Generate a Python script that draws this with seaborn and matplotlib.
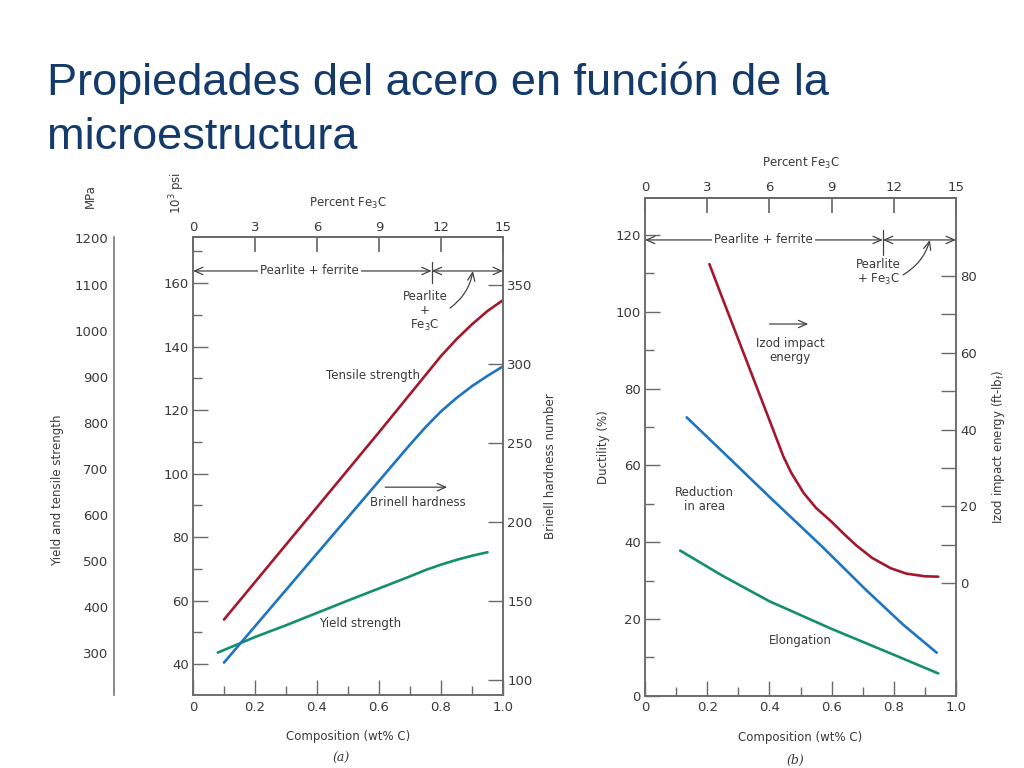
import matplotlib
matplotlib.use("Agg")
import matplotlib.pyplot as plt
import numpy as np
import pandas as pd
import seaborn as sns
from matplotlib.ticker import FixedLocator

# ---------------- data ----------------
# (a) strength / hardness vs composition
ts_x = [0.10, 0.20, 0.30, 0.40, 0.50, 0.60, 0.70, 0.75, 0.80, 0.85, 0.90, 0.95, 1.00]
tensile_ksi = [54, 65.8, 77.6, 89.4, 101.2, 113, 125, 131, 137, 142.3, 147, 151.2, 154.6]
bh_x = [0.10, 0.20, 0.30, 0.40, 0.50, 0.60, 0.70, 0.75, 0.80, 0.85, 0.90, 0.95, 1.00]
brinell = [111, 134, 157, 180, 203, 226, 249, 260, 270, 278.5, 286, 292.5, 298.5]
ys_x = [0.08, 0.20, 0.30, 0.40, 0.50, 0.60, 0.70, 0.75, 0.80, 0.85, 0.90, 0.95]
yield_ksi = [43.6, 48.5, 52.2, 56.1, 60.0, 63.8, 67.6, 69.6, 71.3, 72.8, 74.1, 75.2]

# (b) ductility / impact energy vs composition
izod_x = [0.207, 0.25, 0.30, 0.35, 0.40, 0.445, 0.47, 0.51, 0.55, 0.60, 0.64,
          0.68, 0.73, 0.79, 0.84, 0.90, 0.943]
izod = [83.1, 74, 63.5, 53, 42.5, 33, 28.8, 23.5, 19.6, 16.0, 12.8,
        9.8, 6.6, 3.9, 2.5, 1.8, 1.7]
ra_x = [0.134, 0.25, 0.40, 0.57, 0.71, 0.83, 0.938]
red_area = [72.5, 63.5, 51.8, 38.8, 27.6, 18.5, 11.2]
el_x = [0.113, 0.25, 0.40, 0.60, 0.79, 0.943]
elong = [37.8, 31.2, 24.6, 17.4, 11.0, 5.8]

psi_ticks = [40, 60, 80, 100, 120, 140, 160]
mpa_ticks = [300, 400, 500, 600, 700, 800, 900, 1000, 1100, 1200]
bh_ticks = [100, 150, 200, 250, 300, 350]
duct_ticks = [0, 20, 40, 60, 80, 100, 120]
izod_ticks = [0, 20, 40, 60, 80]
fe3c_ticks = [0, 3, 6, 9, 12, 15]
comp_ticks = [0, 0.2, 0.4, 0.6, 0.8, 1.0]
comp_labels = ["0", "0.2", "0.4", "0.6", "0.8", "1.0"]

title_lines = ["Propiedades del acero en función de la", "microestructura"]

# ---------------- style ----------------
sns.set_theme(style="white")
plt.rcParams["font.family"] = ["DejaVu Sans"]

RED = "#a3182d"
BLUE = "#1f74c0"
GREEN = "#13906a"
AX = "#6a6a6a"
TXT = "#3a3a3a"
TITLE = "#133a6a"
LW = 1.9
TICK_FS = 9.5
LAB_FS = 8.5

W, H = 1024, 768
def fx(px):
    return px / W
def fy(py):
    return 1 - py / H

fig = plt.figure(figsize=(10.24, 7.68), dpi=100)
fig.patch.set_facecolor("white")

fig.text(fx(47), fy(95), title_lines[0], family=["Liberation Sans"], fontsize=32.5,
         color=TITLE, va="baseline", ha="left")
fig.text(fx(47), fy(149), title_lines[1], family=["Liberation Sans"], fontsize=32.5,
         color=TITLE, va="baseline", ha="left")


def style_axes(ax):
    for s in ax.spines.values():
        s.set_color(AX)
        s.set_linewidth(1.1)
    ax.tick_params(which="both", direction="in", colors=AX, labelcolor=TXT,
                   labelsize=TICK_FS, width=1.0)
    ax.tick_params(which="major", length=11)
    ax.tick_params(which="minor", length=6.5)
    ax.set_facecolor("white")
    ax.grid(False)


arrow_kw = dict(arrowstyle="<->,head_length=0.5,head_width=0.22", color="#444444", lw=0.9,
                shrinkA=0, shrinkB=0)
one_kw = dict(arrowstyle="->,head_length=0.5,head_width=0.22", color="#444444",
              lw=0.9, shrinkA=0, shrinkB=0)
curve_kw = dict(one_kw, connectionstyle="arc3,rad=0.2")

# ======================= (a) =======================
PSI_LO, PSI_HI = 30.24, 174.5
BH_LO, BH_HI = 90.5, 380.4
axa = fig.add_axes([fx(193), fy(695), fx(503) - fx(193), fy(237) - fy(695)])
style_axes(axa)
sns.lineplot(x=ts_x, y=tensile_ksi, ax=axa, color=RED, lw=LW, estimator=None, sort=False)
sns.lineplot(x=ys_x, y=yield_ksi, ax=axa, color=GREEN, lw=LW, estimator=None, sort=False)
axa.set_xlim(0, 1.0)
axa.set_ylim(PSI_LO, PSI_HI)
axa.yaxis.set_major_locator(FixedLocator(psi_ticks))
axa.yaxis.set_minor_locator(FixedLocator(list(range(50, 171, 20))))
axa.set_xticks(comp_ticks)
axa.set_xticklabels(comp_labels)
axa.xaxis.set_minor_locator(FixedLocator([0.1, 0.3, 0.5, 0.7, 0.9]))
axa.tick_params(axis="y", which="both", left=True, right=False, pad=3)
axa.tick_params(axis="x", which="both", bottom=True, top=False, pad=4)
axa.set_xlabel("Composition (wt% C)", fontsize=LAB_FS, color=TXT, labelpad=12)
axa.set_ylabel("")

axb_r = axa.twinx()
style_axes(axb_r)
sns.lineplot(x=bh_x, y=brinell, ax=axb_r, color=BLUE, lw=LW, estimator=None, sort=False)
axb_r.set_ylim(BH_LO, BH_HI)
axb_r.yaxis.set_major_locator(FixedLocator(bh_ticks))
axb_r.tick_params(axis="y", which="both", right=True, left=False, pad=3)
axb_r.set_ylabel("Brinell hardness number", fontsize=LAB_FS, color=TXT, labelpad=8)

sec_a = axa.secondary_xaxis("top", functions=(lambda c: c * 15, lambda p: p / 15))
sec_a.set_xticks(fe3c_ticks)
sec_a.tick_params(direction="in", length=11, colors=AX, labelcolor=TXT,
                  labelsize=TICK_FS, pad=2)
sec_a.spines["top"].set_color(AX)
sec_a.set_xlabel("Percent Fe$_3$C", fontsize=LAB_FS, color=TXT, labelpad=10)

# MPa scale
axm = fig.add_axes([fx(114), fy(695), 0.0001, fy(237) - fy(695)])
axm.set_facecolor("none")
for k in ["top", "right", "bottom"]:
    axm.spines[k].set_visible(False)
axm.spines["left"].set_color(AX)
axm.spines["left"].set_linewidth(1.1)
axm.set_xticks([])
axm.set_ylim(PSI_LO * 6.895, PSI_HI * 6.895)
axm.yaxis.set_major_locator(FixedLocator(mpa_ticks))
axm.tick_params(axis="y", direction="in", length=11, colors=AX, labelcolor=TXT,
                labelsize=TICK_FS, pad=4, width=1.0)
axm.grid(False)

fig.text(fx(90), fy(196), "MPa", rotation=90, fontsize=LAB_FS, color=TXT, ha="center", va="center")
fig.text(fx(177), fy(193), "10$^3$ psi", rotation=90, fontsize=LAB_FS, color=TXT, ha="center", va="center")
fig.text(fx(58), fy(490), "Yield and tensile strength", rotation=90, fontsize=LAB_FS,
         color=TXT, ha="center", va="center")
fig.text(fx(341), fy(758), "(a)", family=["DejaVu Serif"], style="italic", fontsize=9,
         color=TXT, ha="center", va="center")

# annotations (a)
ya = 163.8
axa.annotate("", xy=(0.0, ya), xytext=(0.77, ya), arrowprops=arrow_kw)
axa.annotate("", xy=(0.77, ya), xytext=(1.0, ya), arrowprops=arrow_kw)
axa.plot([0.77, 0.77], [160.0, 166.6], color="#444444", lw=0.9)
axa.text(0.377, ya, "Pearlite + ferrite", fontsize=LAB_FS, color=TXT, ha="center", va="center",
         bbox=dict(facecolor="white", edgecolor="none", pad=1.5))
axa.text(0.748, 151, "Pearlite\n+\nFe$_3$C", fontsize=LAB_FS, color=TXT, ha="center",
         va="center", linespacing=1.1)
axa.annotate("", xy=(0.903, ya), xytext=(0.829, 152.1), arrowprops=curve_kw)
axa.text(0.581, 131, "Tensile strength", fontsize=LAB_FS, color=TXT, ha="center", va="center")
axa.text(0.726, 91, "Brinell hardness", fontsize=LAB_FS, color=TXT, ha="center", va="center")
axa.annotate("", xy=(0.82, 95.7), xytext=(0.62, 95.7), arrowprops=one_kw)
axa.text(0.539, 52.9, "Yield strength", fontsize=LAB_FS, color=TXT, ha="center", va="center")

# ======================= (b) =======================
IZ_OFF = 29.3
axd = fig.add_axes([fx(645), fy(695.7), fx(956) - fx(645), fy(197.7) - fy(695.7)])
style_axes(axd)
sns.lineplot(x=ra_x, y=red_area, ax=axd, color=BLUE, lw=LW, estimator=None, sort=False)
sns.lineplot(x=el_x, y=elong, ax=axd, color=GREEN, lw=LW, estimator=None, sort=False)
axd.set_xlim(0, 1.0)
axd.set_ylim(0, 129.7)
axd.yaxis.set_major_locator(FixedLocator(duct_ticks))
axd.yaxis.set_minor_locator(FixedLocator(list(range(10, 111, 20))))
axd.set_xticks(comp_ticks)
axd.set_xticklabels(comp_labels)
axd.xaxis.set_minor_locator(FixedLocator([0.1, 0.3, 0.5, 0.7, 0.9]))
axd.tick_params(axis="y", which="both", left=True, right=False, pad=3)
axd.tick_params(axis="x", which="both", bottom=True, top=False, pad=4)
axd.set_xlabel("Composition (wt% C)", fontsize=LAB_FS, color=TXT, labelpad=12)
axd.set_ylabel("Ductility (%)", fontsize=LAB_FS, color=TXT, labelpad=4)

axi = axd.twinx()
style_axes(axi)
sns.lineplot(x=izod_x, y=izod, ax=axi, color=RED, lw=LW, estimator=None, sort=False)
axi.set_ylim(-IZ_OFF, 129.7 - IZ_OFF)
axi.yaxis.set_major_locator(FixedLocator(izod_ticks))
axi.yaxis.set_minor_locator(FixedLocator([10, 30, 50, 70]))
axi.tick_params(axis="y", which="both", right=True, left=False, pad=3, length=11)
axi.set_ylabel("Izod impact energy (ft-lb$_\\mathrm{f}$)", fontsize=LAB_FS, color=TXT, labelpad=9)

sec_b = axd.secondary_xaxis("top", functions=(lambda c: c * 15, lambda p: p / 15))
sec_b.set_xticks(fe3c_ticks)
sec_b.tick_params(direction="in", length=11, colors=AX, labelcolor=TXT,
                  labelsize=TICK_FS, pad=3)
sec_b.spines["top"].set_color(AX)
sec_b.set_xlabel("Percent Fe$_3$C", fontsize=LAB_FS, color=TXT, labelpad=10)

fig.text(fx(795), fy(760), "(b)", family=["DejaVu Serif"], style="italic", fontsize=9,
         color=TXT, ha="center", va="center")

yb = 118.7
axd.annotate("", xy=(0.0, yb), xytext=(0.765, yb), arrowprops=arrow_kw)
axd.annotate("", xy=(0.765, yb), xytext=(1.0, yb), arrowprops=arrow_kw)
axd.plot([0.765, 0.765], [114.8, 121.2], color="#444444", lw=0.9)
axd.text(0.38, yb, "Pearlite + ferrite", fontsize=LAB_FS, color=TXT, ha="center", va="center",
         bbox=dict(facecolor="white", edgecolor="none", pad=1.5))
axd.text(0.75, 110.3, "Pearlite\n+ Fe$_3$C", fontsize=LAB_FS, color=TXT, ha="center",
         va="center", linespacing=1.1)
axd.annotate("", xy=(0.916, yb), xytext=(0.83, 109.6), arrowprops=curve_kw)
axd.annotate("", xy=(0.525, 96.8), xytext=(0.40, 96.8), arrowprops=one_kw)
axd.text(0.466, 90, "Izod impact\nenergy", fontsize=LAB_FS, color=TXT, ha="center",
         va="center", linespacing=1.1)
axd.text(0.19, 51, "Reduction\nin area", fontsize=LAB_FS, color=TXT, ha="center",
         va="center", linespacing=1.1)
axd.text(0.498, 14.5, "Elongation", fontsize=LAB_FS, color=TXT, ha="center", va="center")

fig.savefig("out.png", dpi=100, facecolor="white")
